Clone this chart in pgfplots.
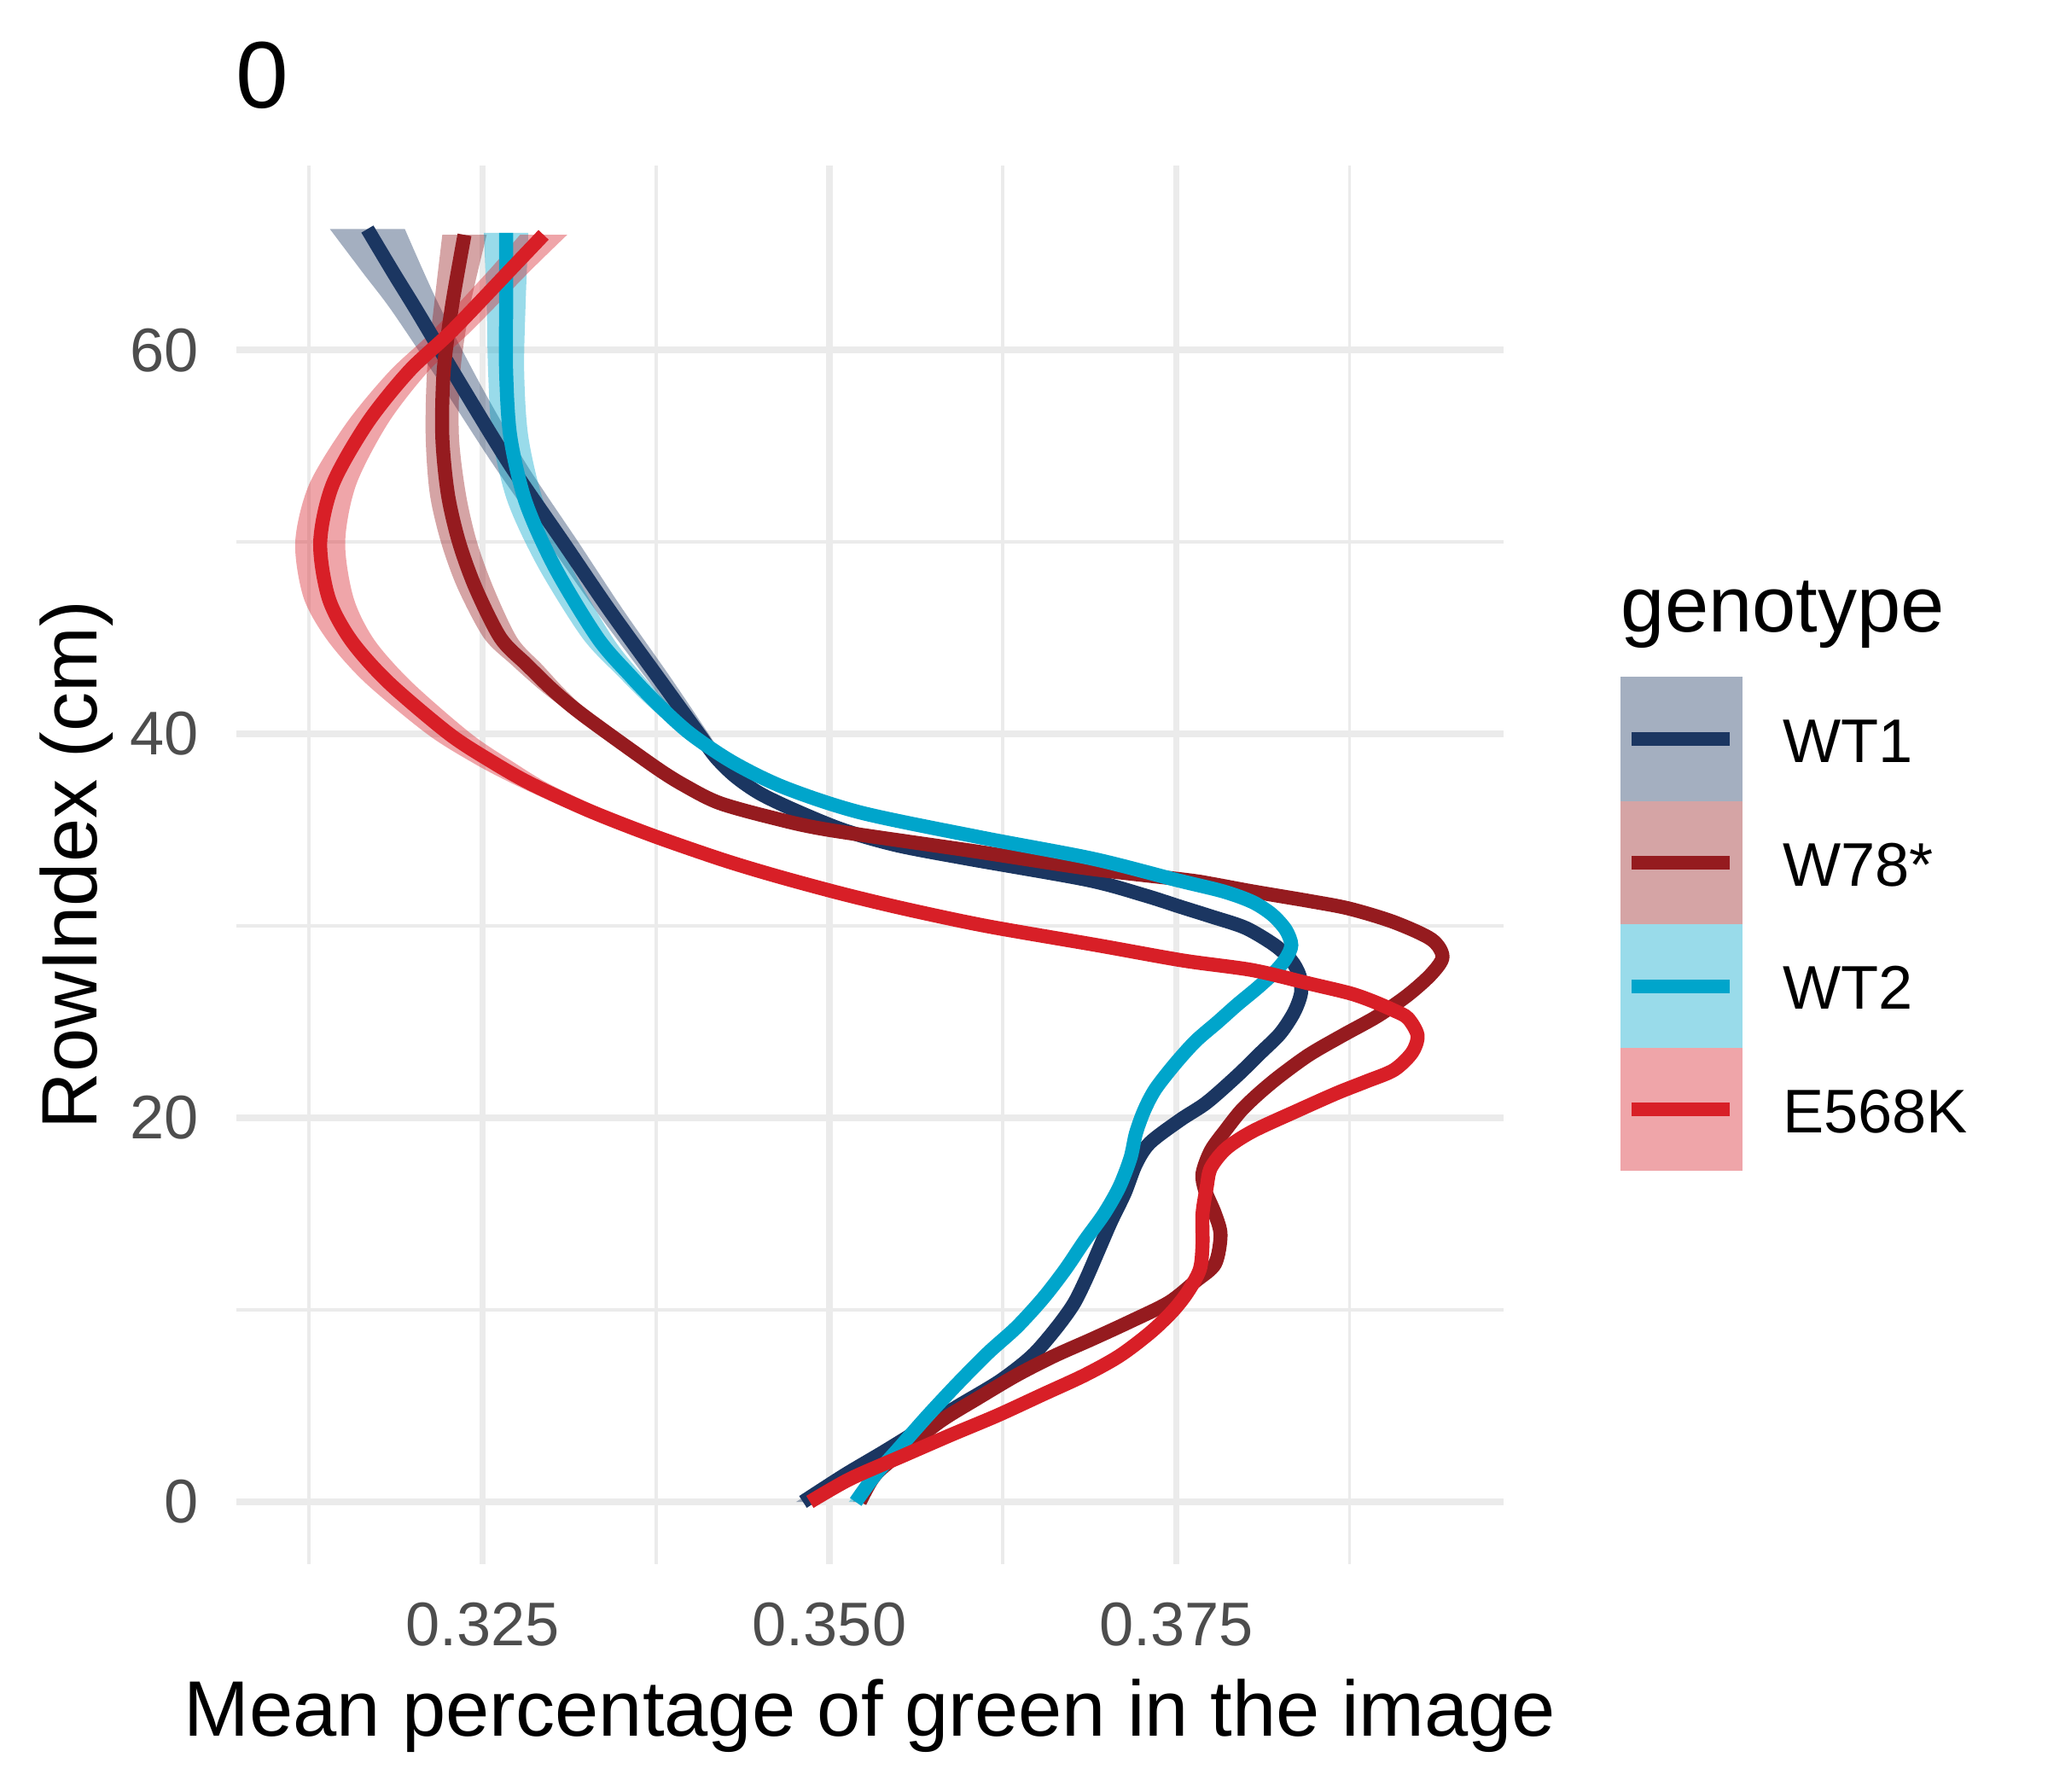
\documentclass[border=0pt]{standalone}
\usepackage{pgfplots}
\pgfplotsset{compat=1.18}
\usepackage{pgfplotstable}
\usepgfplotslibrary{fillbetween}
\usepackage{fontspec}
\setmainfont{Liberation Sans}
\definecolor{cA}{HTML}{1B3661}
\definecolor{cB}{HTML}{951B1F}
\definecolor{cC}{HTML}{00A5CB}
\definecolor{cD}{HTML}{D81F27}
\definecolor{gridc}{HTML}{EBEBEB}
\definecolor{tickc}{HTML}{4D4D4D}

\pgfplotstableread{
y x w
0.0 0.3481 0.0005
1.4 0.3511 0.0004
2.6 0.3539 0.0004
3.8 0.3566 0.0004
5.0 0.3593 0.0004
6.3 0.3623 0.0004
7.6 0.3646 0.0004
9.0 0.3663 0.0004
10.3 0.3676 0.0004
11.6 0.3685 0.0004
13.1 0.3694 0.0004
14.6 0.3703 0.0004
16.1 0.3713 0.0004
17.6 0.3721 0.0004
18.7 0.3731 0.0004
19.9 0.3753 0.0004
20.8 0.3772 0.0004
22.2 0.3794 0.0004
23.4 0.3811 0.0004
24.4 0.3825 0.0004
25.5 0.3835 0.0004
26.5 0.3840 0.0004
27.4 0.3839 0.0004
28.2 0.3833 0.0004
29.0 0.3821 0.0004
29.9 0.3800 0.0004
30.5 0.3775 0.0004
31.0 0.3753 0.0004
31.6 0.3727 0.0004
32.4 0.3686 0.0004
33.5 0.3600 0.0004
34.2 0.3549 0.0004
35.0 0.3510 0.0004
36.0 0.3476 0.0004
36.9 0.3450 0.0005
37.8 0.3432 0.0005
38.8 0.3418 0.0006
40.0 0.3406 0.0007
43.0 0.3376 0.0009
46.5 0.3341 0.0010
50.0 0.3308 0.0011
54.0 0.3270 0.0012
58.0 0.3236 0.0014
62.0 0.3203 0.0018
64.0 0.3186 0.0022
66.3 0.3167 0.0027
}\tA

\pgfplotstableread{
y x w
0.0 0.3522 0.0005
1.4 0.3533 0.0004
2.6 0.3552 0.0004
4.2 0.3580 0.0004
5.4 0.3607 0.0004
6.6 0.3635 0.0004
7.6 0.3662 0.0004
8.5 0.3690 0.0004
9.4 0.3717 0.0004
10.4 0.3745 0.0004
11.5 0.3764 0.0004
12.4 0.3778 0.0004
13.9 0.3782 0.0004
15.0 0.3778 0.0004
16.2 0.3771 0.0004
17.1 0.3769 0.0004
18.3 0.3775 0.0004
19.4 0.3786 0.0004
20.4 0.3797 0.0004
21.3 0.3810 0.0004
22.2 0.3825 0.0004
23.3 0.3846 0.0004
24.3 0.3870 0.0004
25.3 0.3895 0.0004
26.4 0.3917 0.0004
27.5 0.3934 0.0004
28.4 0.3942 0.0004
29.3 0.3934 0.0004
30.2 0.3907 0.0004
30.9 0.3875 0.0004
31.3 0.3846 0.0004
31.8 0.3805 0.0004
32.2 0.3775 0.0004
32.4 0.3757 0.0004
33.0 0.3686 0.0004
33.9 0.3604 0.0004
35.0 0.3500 0.0004
35.6 0.3461 0.0004
36.4 0.3421 0.0004
37.3 0.3396 0.0004
38.3 0.3374 0.0005
40.9 0.3324 0.0007
42.2 0.3302 0.0009
43.6 0.3282 0.0011
45.0 0.3263 0.0012
47.6 0.3245 0.0013
50.0 0.3233 0.0013
52.5 0.3225 0.0013
55.5 0.3221 0.0012
58.9 0.3222 0.0012
62.3 0.3228 0.0013
66.0 0.3237 0.0016
}\tB

\pgfplotstableread{
y x w
0.0 0.3519 0.0005
1.4 0.3533 0.0004
2.7 0.3549 0.0004
4.5 0.3571 0.0004
6.2 0.3593 0.0004
7.8 0.3615 0.0004
9.1 0.3635 0.0004
10.6 0.3654 0.0004
12.1 0.3670 0.0004
13.6 0.3684 0.0004
15.0 0.3698 0.0004
16.4 0.3709 0.0004
17.9 0.3717 0.0004
19.2 0.3721 0.0004
20.4 0.3727 0.0004
21.5 0.3735 0.0004
22.8 0.3749 0.0004
24.0 0.3764 0.0004
25.0 0.3780 0.0004
25.9 0.3794 0.0004
26.8 0.3809 0.0004
27.6 0.3821 0.0004
28.3 0.3829 0.0004
29.0 0.3833 0.0004
29.8 0.3829 0.0004
30.6 0.3819 0.0004
31.25 0.3805 0.0004
31.8 0.3784 0.0004
32.4 0.3750 0.0004
33.5 0.3690 0.0004
34.6 0.3610 0.0004
35.9 0.3523 0.0004
37.2 0.3468 0.0004
38.5 0.3431 0.0005
40.0 0.3400 0.0006
41.5 0.3377 0.0008
43.0 0.3357 0.0009
45.0 0.3333 0.0011
48.7 0.3302 0.0012
52.1 0.3281 0.0013
55.5 0.3270 0.0013
58.9 0.3267 0.0013
62.3 0.3267 0.0014
66.1 0.3267 0.0016
}\tC

\pgfplotstableread{
y x w
0.0 0.3486 0.0005
1.2 0.3515 0.0004
2.4 0.3553 0.0004
3.5 0.3588 0.0004
4.5 0.3621 0.0004
5.6 0.3654 0.0004
6.6 0.3684 0.0004
7.6 0.3709 0.0004
8.8 0.3731 0.0004
9.9 0.3747 0.0004
10.9 0.3758 0.0004
12.1 0.3767 0.0004
13.4 0.3769 0.0004
15.0 0.3769 0.0004
16.4 0.3772 0.0004
17.4 0.3775 0.0004
18.4 0.3786 0.0004
19.3 0.3805 0.0004
20.4 0.3838 0.0004
21.3 0.3866 0.0004
21.9 0.3887 0.0004
22.5 0.3907 0.0004
23.4 0.3920 0.0004
24.3 0.3924 0.0004
25.2 0.3917 0.0004
25.6 0.3907 0.0004
26.1 0.3891 0.0004
26.5 0.3875 0.0004
27.0 0.3846 0.0004
27.7 0.3805 0.0004
28.2 0.3755 0.0004
29.0 0.3693 0.0005
30.0 0.3613 0.0006
30.9 0.3554 0.0006
31.7 0.3508 0.0007
32.6 0.3462 0.0008
33.45 0.3423 0.0009
34.7 0.3373 0.0010
36.0 0.3327 0.0012
37.4 0.3285 0.0013
38.5 0.3258 0.0015
40.0 0.3226 0.0016
42.7 0.3182 0.0017
44.9 0.3155 0.0017
47.1 0.3139 0.0018
50.0 0.3133 0.0018
53.0 0.3142 0.0017
56.2 0.3167 0.0015
58.9 0.3197 0.0014
61.0 0.3228 0.0014
64.1 0.3269 0.0015
66.0 0.3294 0.0017
}\tD

\begin{document}
\begin{tikzpicture}
\begin{axis}[
  at={(1.81cm,1.7425cm)}, anchor=south west,
  scale only axis, width=9.685cm, height=10.694cm,
  xmin=0.30728, xmax=0.39858, ymin=-3.24, ymax=69.61,
  xtick={0.325,0.35,0.375}, xticklabels={0.325,0.350,0.375},
  ytick={0,20,40,60}, yticklabels={0,20,40,60},
  minor xtick={0.3125,0.3375,0.3625,0.3875},
  minor ytick={10,30,50},
  scaled x ticks=false, scaled y ticks=false,
  grid=both,
  major grid style={draw=gridc, line width=1.42pt},
  minor grid style={draw=gridc, line width=0.72pt},
  major tick length=0pt, minor tick length=0pt,
  axis line style={draw=none},
  xticklabel style={anchor=north, inner sep=0pt, yshift=-0.29cm, font=\fontsize{13.4}{16}\selectfont, text=tickc},
  yticklabel style={anchor=east, inner sep=0pt, xshift=-0.285cm, font=\fontsize{13.4}{16}\selectfont, text=tickc},
]
% WT1
\addplot[draw=none, smooth, name path=Alo, forget plot] table[x expr=\thisrow{x}-\thisrow{w}, y=y]{\tA};
\addplot[draw=none, smooth, name path=Ahi, forget plot] table[x expr=\thisrow{x}+\thisrow{w}, y=y]{\tA};
\addplot[fill=cA, fill opacity=0.4, draw=none, forget plot] fill between[of=Alo and Ahi];
\addplot[cA, line width=3.05pt, smooth] table[x=x, y=y]{\tA};
% W78*
\addplot[draw=none, smooth, name path=Blo, forget plot] table[x expr=\thisrow{x}-\thisrow{w}, y=y]{\tB};
\addplot[draw=none, smooth, name path=Bhi, forget plot] table[x expr=\thisrow{x}+\thisrow{w}, y=y]{\tB};
\addplot[fill=cB, fill opacity=0.4, draw=none, forget plot] fill between[of=Blo and Bhi];
\addplot[cB, line width=3.05pt, smooth] table[x=x, y=y]{\tB};
% WT2
\addplot[draw=none, smooth, name path=Clo, forget plot] table[x expr=\thisrow{x}-\thisrow{w}, y=y]{\tC};
\addplot[draw=none, smooth, name path=Chi, forget plot] table[x expr=\thisrow{x}+\thisrow{w}, y=y]{\tC};
\addplot[fill=cC, fill opacity=0.4, draw=none, forget plot] fill between[of=Clo and Chi];
\addplot[cC, line width=3.05pt, smooth] table[x=x, y=y]{\tC};
% E568K
\addplot[draw=none, smooth, name path=Dlo, forget plot] table[x expr=\thisrow{x}-\thisrow{w}, y=y]{\tD};
\addplot[draw=none, smooth, name path=Dhi, forget plot] table[x expr=\thisrow{x}+\thisrow{w}, y=y]{\tD};
\addplot[fill=cD, fill opacity=0.4, draw=none, forget plot] fill between[of=Dlo and Dhi];
\addplot[cD, line width=3.05pt, smooth] table[x=x, y=y]{\tD};
\end{axis}
% titles
\node[anchor=base west, inner sep=0pt, font=\fontsize{20.6}{24}\selectfont] at (1.80,12.8755) {0};
\node[anchor=base, inner sep=0pt, font=\fontsize{17.1}{20}\selectfont] at (6.6525,0.4255) {Mean percentage of green in the image};
\node[anchor=base, inner sep=0pt, rotate=90, font=\fontsize{17.1}{20}\selectfont] at (0.74,7.0895) {RowIndex (cm)};
% legend
\node[anchor=base west, inner sep=0pt, font=\fontsize{17.1}{20}\selectfont] at (12.39,8.8725) {genotype};
\fill[cA, opacity=0.4] (12.388,7.5765) rectangle (13.324,8.5255);
\fill[cB, opacity=0.4] (12.388,6.6335) rectangle (13.324,7.5765);
\fill[cC, opacity=0.4] (12.388,5.6885) rectangle (13.324,6.6335);
\fill[cD, opacity=0.4] (12.388,4.7485) rectangle (13.324,5.6885);
\draw[cA, line width=3.05pt] (12.479,8.0505) -- (13.226,8.0505);
\draw[cB, line width=3.05pt] (12.479,7.1045) -- (13.226,7.1045);
\draw[cC, line width=3.05pt] (12.479,6.1605) -- (13.226,6.1605);
\draw[cD, line width=3.05pt] (12.479,5.2185) -- (13.226,5.2185);
\node[anchor=base west, inner sep=0pt, font=\fontsize{13.4}{16}\selectfont] at (13.625,7.875) {WT1};
\node[anchor=base west, inner sep=0pt, font=\fontsize{13.4}{16}\selectfont] at (13.625,6.929) {W78*};
\node[anchor=base west, inner sep=0pt, font=\fontsize{13.4}{16}\selectfont] at (13.625,5.985) {WT2};
\node[anchor=base west, inner sep=0pt, font=\fontsize{13.4}{16}\selectfont] at (13.625,5.043) {E568K};
\pgfresetboundingbox
\useasboundingbox (0,0) rectangle (15.66,13.7025);
\end{tikzpicture}
\end{document}
